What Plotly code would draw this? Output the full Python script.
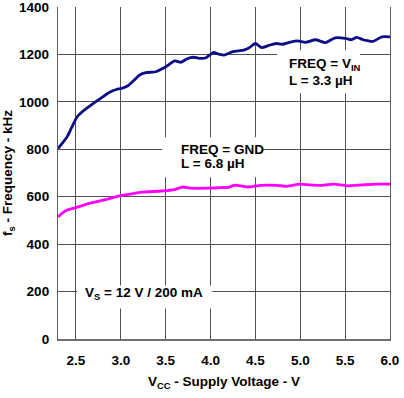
import plotly.graph_objects as go

# Data
vin_x = [2.30, 2.40, 2.45, 2.51, 2.57, 2.64, 2.77, 2.88, 2.95, 3.01, 3.08, 3.15, 3.21, 3.28, 3.39,
         3.45, 3.51, 3.60, 3.67, 3.74, 3.81, 3.89, 3.95, 4.03, 4.10, 4.15, 4.25, 4.37, 4.43, 4.50,
         4.57, 4.65, 4.73, 4.80, 4.88, 4.97, 5.06, 5.17, 5.28, 5.39, 5.50, 5.57, 5.63, 5.70, 5.75,
         5.81, 5.91, 6.00]
vin_y = [803, 852, 890, 935, 958, 979, 1014, 1042, 1052, 1057, 1068, 1092, 1113, 1123, 1127,
         1137, 1150, 1173, 1167, 1182, 1188, 1183, 1186, 1208, 1200, 1197, 1212, 1218, 1228, 1246,
         1229, 1238, 1246, 1243, 1251, 1257, 1251, 1262, 1250, 1270, 1268, 1262, 1272, 1262, 1258,
         1255, 1274, 1274]

gnd_x = [2.30, 2.38, 2.50, 2.64, 2.83, 3.00, 3.12, 3.23, 3.45, 3.60, 3.69, 3.78, 3.98, 4.15,
         4.20, 4.26, 4.30, 4.41, 4.56, 4.74, 4.85, 5.00, 5.10, 5.22, 5.37, 5.52, 5.70, 5.85, 6.00]
gnd_y = [515, 540, 554, 571, 588, 605, 612, 619, 624, 630, 641, 636, 636, 639,
         639, 648, 648, 641, 648, 648, 644, 653, 650, 648, 653, 646, 650, 653, 653]

x_ticks = [2.5, 3.0, 3.5, 4.0, 4.5, 5.0, 5.5, 6.0]
y_ticks = [0, 200, 400, 600, 800, 1000, 1200, 1400]

FONT = "Liberation Sans, Arial, Helvetica, sans-serif"
GRID = "#505050"
FS = 13.5

fig = go.Figure()
fig.add_trace(go.Scatter(x=vin_x, y=vin_y, mode="lines",
                         line=dict(color="#0d0d85", width=2.8, shape="spline", smoothing=0.6),
                         showlegend=False, hoverinfo="skip", cliponaxis=False))
fig.add_trace(go.Scatter(x=gnd_x, y=gnd_y, mode="lines",
                         line=dict(color="#ff00ff", width=2.8, shape="spline", smoothing=0.6),
                         showlegend=False, hoverinfo="skip", cliponaxis=False))

# white label boxes (cover the grid)
boxes = [
    (3.461, 4.586, 682, 851),
    (4.742, 5.666, 1036, 1218),
    (2.515, 4.02, 129, 226),
]
for x0, x1, y0, y1 in boxes:
    fig.add_shape(type="rect", x0=x0, x1=x1, y0=y0, y1=y1, xref="x", yref="y",
                  fillcolor="white", line=dict(width=0), layer="above")

tf = dict(family=FONT, size=FS, color="black", weight="bold")
labels = [
    ("FREQ = GND", 3.653, 800),
    ("L = 6.8 µH", 3.653, 741),
    ("FREQ = V<sub>IN</sub>", 4.853, 1158),
    ("L = 3.3 µH", 4.853, 1092),
    ("V<sub>S</sub> = 12 V / 200 mA", 2.582, 190),
]
for t, x, y in labels:
    fig.add_annotation(x=x, y=y, xref="x", yref="y", text=t, showarrow=False,
                       xanchor="left", yanchor="middle", font=tf)

fig.update_layout(
    width=404, height=398,
    margin=dict(l=58, r=14, t=7, b=59),
    plot_bgcolor="white", paper_bgcolor="white",
    font=dict(family=FONT, size=FS, color="black", weight="bold"),
    xaxis=dict(range=[2.3, 6.0], tickvals=x_ticks, tickformat=".1f",
               showgrid=True, gridcolor=GRID, gridwidth=1.2,
               showline=True, linecolor="#707070", linewidth=1.5,
               ticks="", zeroline=False, ticklabelstandoff=8, automargin=False,
               ticklabeloverflow="allow",
               title=dict(text="V<sub>CC</sub> - Supply Voltage - V", standoff=10,
                          font=dict(family=FONT, size=FS, color="black", weight="bold"))),
    yaxis=dict(range=[0, 1400], tickvals=y_ticks,
               showgrid=True, gridcolor=GRID, gridwidth=1.2,
               showline=True, mirror=True, linecolor="#606060", linewidth=1.3,
               ticks="", zeroline=False, ticklabelstandoff=5, automargin=False,
               ticklabeloverflow="allow",
               title=dict(text="f<sub>s</sub> - Frequency - kHz", standoff=8,
                          font=dict(family=FONT, size=FS, color="black", weight="bold"))),
)

fig.write_html("out.html", config={"displayModeBar": False},
               post_script="document.body.style.margin='0';")
